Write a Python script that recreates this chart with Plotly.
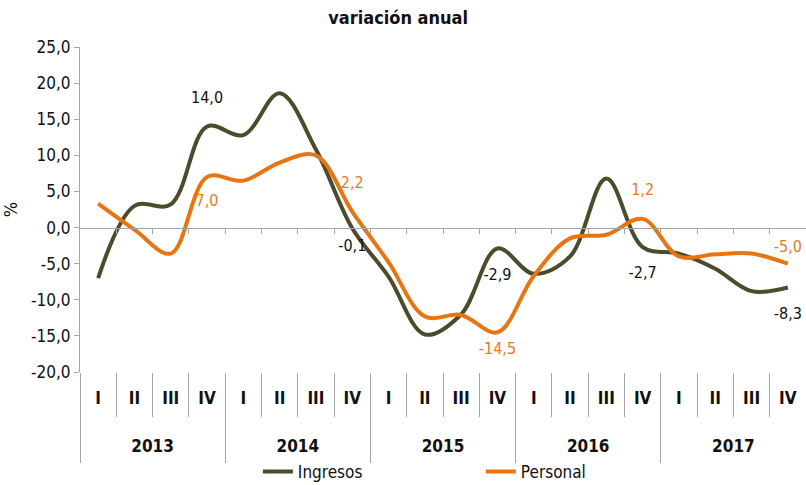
import plotly.graph_objects as go

# ---- data ----
years = ["2013", "2014", "2015", "2016", "2017"]
quarters = ["I", "II", "III", "IV"]
ingresos = [-7.0, 3.0, 3.2, 14.0,
            12.8, 18.6, 10.8, -0.1,
            -6.8, -14.8, -12.0, -2.9,
            -6.4, -4.0, 6.8, -2.7,
            -3.6, -5.7, -8.8, -8.3]
personal = [3.3, -0.3, -3.6, 7.0,
            6.5, 9.0, 10.0, 2.2,
            -4.8, -12.3, -12.1, -14.5,
            -6.7, -1.5, -1.0, 1.2,
            -4.0, -3.7, -3.6, -5.0]
y_range = [-20, 25]
y_step = 5

# ---- styling ----
DARK = "#4E4A2C"
ORANGE = "#E87511"
ORANGE_TXT = "#E8782A"
GRAY = "#A6A6A6"
FONT = "DejaVu Sans Condensed, Liberation Sans Narrow, sans-serif"

nq = len(quarters)
x_inner = [q for _ in years for q in quarters]
n = len(x_inner)
xi = list(range(n))


def fmt(v):
    return ("%.1f" % v).replace(".", ",")


def labels(vals):
    return [fmt(v) if q == quarters[-1] else "" for v, q in zip(vals, x_inner)]


# label placement per year (style, not data)
ing_pos_by_year = ["top center", "bottom center", "bottom center", "bottom center", "bottom center"]
per_pos_by_year = ["bottom center", "top center", "bottom center", "top center", "top center"]
ing_gap_by_year = [30, 16, 30, 28, 30]
per_gap_by_year = [26, 30, 14, 30, 10]
ing_pos = [p for p in ing_pos_by_year for _ in quarters]
per_pos = [p for p in per_pos_by_year for _ in quarters]
ing_gap = [g for g in ing_gap_by_year for _ in quarters]
per_gap = [g for g in per_gap_by_year for _ in quarters]

fig = go.Figure()
fig.add_trace(go.Scatter(
    x=xi, y=ingresos, name="Ingresos",
    mode="lines+markers+text",
    line=dict(color=DARK, width=4, shape="spline", smoothing=1.0),
    marker=dict(size=ing_gap, color="rgba(0,0,0,0)", line=dict(width=0)),
    text=labels(ingresos), textposition=ing_pos,
    textfont=dict(color="#111111", size=16, family=FONT),
    cliponaxis=False, hoverinfo="y",
))
fig.add_trace(go.Scatter(
    x=xi, y=personal, name="Personal",
    mode="lines+markers+text",
    line=dict(color=ORANGE, width=4, shape="spline", smoothing=1.0),
    marker=dict(size=per_gap, color="rgba(0,0,0,0)", line=dict(width=0)),
    text=labels(personal), textposition=per_pos,
    textfont=dict(color=ORANGE_TXT, size=16, family=FONT),
    cliponaxis=False, hoverinfo="y",
))
# helper traces carrying the extra axes (zero-crossing axis and year row)
fig.add_trace(go.Scatter(x=xi, y=ingresos, xaxis="x2", mode="none",
                         showlegend=False, hoverinfo="skip"))
fig.add_trace(go.Scatter(x=xi, y=ingresos, xaxis="x3", mode="none",
                         showlegend=False, hoverinfo="skip"))

zero_pos = (0 - y_range[0]) / (y_range[1] - y_range[0])
x_rng = [-0.5, n - 0.5]
q_bounds = [i - 0.5 for i in range(n + 1)]
y_bounds = [i * nq - 0.5 for i in range(len(years) + 1)]
y_centers = [i * nq + (nq - 1) / 2 for i in range(len(years))]
y_ticks = list(range(y_range[0], y_range[1] + 1, y_step))

fig.update_layout(
    width=806, height=485,
    margin=dict(l=80, r=0, t=47, b=113, autoexpand=False),
    paper_bgcolor="white", plot_bgcolor="white",
    font=dict(family=FONT, size=17, color="#111111"),
    title=dict(text="<b>variación anual</b>", x=0.494, xref="container",
               y=1 - 18 / 485, yref="container", yanchor="middle",
               xanchor="center", font=dict(size=18, family=FONT, color="#111111")),
    xaxis=dict(
        range=x_rng, automargin=False, showline=False, showgrid=False, zeroline=False,
        tickvals=xi, ticktext=["<b>%s</b>" % q for q in x_inner], ticks="",
        minor=dict(tickvals=q_bounds, ticks="outside", ticklen=44,
                   tickcolor=GRAY, tickwidth=1, showgrid=False),
        ticklabelstandoff=14,
        tickfont=dict(size=17, family=FONT, color="#111111"),
    ),
    xaxis3=dict(
        overlaying="x", anchor="y", side="bottom",
        range=x_rng, automargin=False, showline=False, showgrid=False, zeroline=False,
        tickvals=y_centers, ticktext=["<b>%s</b>" % y for y in years], ticks="",
        minor=dict(tickvals=y_bounds, ticks="outside", ticklen=90,
                   tickcolor=GRAY, tickwidth=1, showgrid=False),
        ticklabelstandoff=62,
        tickfont=dict(size=17, family=FONT, color="#111111"),
    ),
    xaxis2=dict(
        overlaying="x", anchor="free", position=zero_pos, side="bottom",
        range=x_rng, automargin=False,
        tickvals=q_bounds[1:-1], ticks="outside", ticklen=5, tickcolor=GRAY,
        showticklabels=False, showline=True, linecolor=GRAY, linewidth=1,
        showgrid=False, zeroline=False,
    ),
    yaxis=dict(
        range=y_range, automargin=False,
        tickvals=y_ticks, ticktext=[fmt(v) for v in y_ticks],
        showline=True, linecolor=GRAY, linewidth=1,
        ticks="outside", ticklen=5, tickcolor=GRAY,
        showgrid=False, zeroline=False,
        tickfont=dict(size=17, family=FONT, color="#111111"),
        title=dict(text="%", standoff=14, font=dict(size=18, family=FONT)),
    ),
    legend=dict(
        orientation="h", x=0.245, xanchor="left",
        y=-0.252, yref="paper", yanchor="top",
        entrywidth=178, entrywidthmode="pixels",
        bgcolor="rgba(0,0,0,0)",
        font=dict(size=17, family=FONT, color="#111111"),
        itemwidth=30,
    ),
)

fig.write_html("out.html", config={"displayModeBar": False},
               post_script="document.body.style.margin='0';document.body.style.padding='0';")
